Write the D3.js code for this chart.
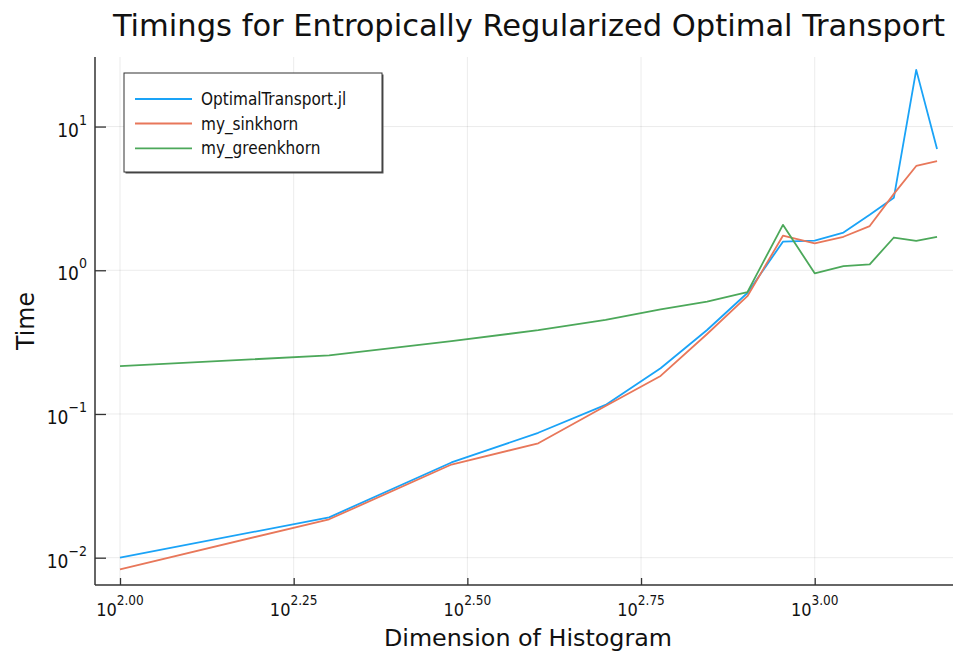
<!DOCTYPE html>
<html>
<head>
<meta charset="utf-8">
<script src="https://cdn.jsdelivr.net/npm/d3@7"></script>
<style>
  html, body { margin: 0; padding: 0; background: #fff; }
  svg { display: block; }
  text { font-family: "DejaVu Sans Condensed", "DejaVu Sans", sans-serif; fill: #111; }
</style>
</head>
<body>
<svg id="chart" width="953" height="654"></svg>
<script>
// ---- data ----
const dims = [100, 200, 300, 400, 500, 600, 700, 800, 900, 1000, 1100, 1200, 1300, 1400, 1500];
const optimalTransport = [0.0100, 0.0191, 0.0460, 0.074, 0.1156, 0.208, 0.384, 0.695, 1.58, 1.61, 1.83, 2.43, 3.2, 24.8, 6.98];
const mySinkhorn      = [0.0083, 0.0185, 0.0445, 0.0625, 0.1137, 0.184, 0.36, 0.66, 1.74, 1.54, 1.71, 2.03, 3.4, 5.32, 5.74];
const myGreenkhorn    = [0.215, 0.256, 0.321, 0.383, 0.451, 0.535, 0.605, 0.705, 2.07, 0.953, 1.07, 1.10, 1.69, 1.60, 1.71];
const seriesNames = ["OptimalTransport.jl", "my_sinkhorn", "my_greenkhorn"];
const seriesColors = ["#1AA3F7", "#E8775A", "#4CA85A"];
const xTickExps = ["2.00", "2.25", "2.50", "2.75", "3.00"];
const yTickExps = [-2, -1, 0, 1];
const titleText = "Timings for Entropically Regularized Optimal Transport";
const xLabel = "Dimension of Histogram";
const yLabel = "Time";

// ---- layout ----
const svg = d3.select("#chart");
const pLeft = 95, pBottom = 585, pTop = 57, pRight = 961.5;

const x = d3.scaleLog().domain([Math.pow(10, 1.964), Math.pow(10, 3.2113)]).range([pLeft, pRight]);
const y = d3.scaleLog().domain([Math.pow(10, -2.19), Math.pow(10, 1.484)]).range([pBottom, pTop]);

const xTicks = xTickExps.map(e => Math.pow(10, +e));
const yTicks = yTickExps.map(e => Math.pow(10, e));

// grid
const grid = svg.append("g");
grid.selectAll("line.gx").data(xTicks).join("line")
  .attr("x1", d => x(d)).attr("x2", d => x(d)).attr("y1", pTop).attr("y2", pBottom)
  .attr("stroke", "#000").attr("stroke-opacity", 0.08).attr("stroke-width", 1);
grid.selectAll("line.gy").data(yTicks).join("line")
  .attr("y1", d => y(d)).attr("y2", d => y(d)).attr("x1", pLeft).attr("x2", 953)
  .attr("stroke", "#000").attr("stroke-opacity", 0.08).attr("stroke-width", 1);

// lines
const series = [optimalTransport, mySinkhorn, myGreenkhorn];
const line = d3.line().x(d => x(d[0])).y(d => y(d[1]));
series.forEach((vals, i) => {
  svg.append("path")
    .datum(dims.map((d, j) => [d, vals[j]]))
    .attr("fill", "none")
    .attr("stroke", seriesColors[i])
    .attr("stroke-width", 1.8)
    .attr("stroke-linejoin", "round")
    .attr("d", line);
});

// axes
const xAxis = d3.axisBottom(x).tickValues(xTicks).tickSizeInner(-7).tickSizeOuter(0).tickFormat("");
const gx = svg.append("g").attr("transform", `translate(0,${pBottom})`).call(xAxis);
gx.select(".domain").attr("stroke", "#333").attr("stroke-width", 1.5).attr("d", `M${pLeft},0H953`);
gx.selectAll(".tick line").attr("stroke", "#333").attr("stroke-width", 1.3);

const yAxis = d3.axisLeft(y).tickValues(yTicks).tickSizeInner(-11).tickSizeOuter(0).tickFormat("");
const gy = svg.append("g").attr("transform", `translate(${pLeft},0)`).call(yAxis);
gy.select(".domain").attr("stroke", "#333").attr("stroke-width", 1.5).attr("d", `M0,${pBottom}V${pTop}`);
gy.selectAll(".tick line").attr("stroke", "#333").attr("stroke-width", 1.3);

// x tick labels
xTickExps.forEach((e, i) => {
  const t = svg.append("text")
    .attr("x", x(xTicks[i]))
    .attr("y", 616)
    .attr("text-anchor", "middle")
    .attr("font-size", 18);
  t.append("tspan").text("10");
  t.append("tspan").attr("dy", -11).attr("font-size", 13.5).text(e);
});

// y tick labels
yTickExps.forEach((e, i) => {
  const t = svg.append("text")
    .attr("x", 87)
    .attr("y", y(yTicks[i]) + 10)
    .attr("text-anchor", "end")
    .attr("font-size", 19);
  t.append("tspan").text("10");
  t.append("tspan").attr("dy", -12).attr("font-size", 14)
    .text(e < 0 ? "\u2212" + Math.abs(e) : String(e));
});

// title
svg.append("text")
  .attr("x", 529).attr("y", 36)
  .attr("text-anchor", "middle")
  .attr("font-size", 31)
  .attr("textLength", 832).attr("lengthAdjust", "spacingAndGlyphs")
  .text(titleText);

// axis labels
svg.append("text")
  .attr("x", 528).attr("y", 646)
  .attr("text-anchor", "middle")
  .attr("font-size", 23)
  .attr("textLength", 288).attr("lengthAdjust", "spacingAndGlyphs")
  .text(xLabel);

svg.append("text")
  .attr("transform", "translate(34,321) rotate(-90)")
  .attr("text-anchor", "middle")
  .attr("font-size", 25)
  .attr("textLength", 58).attr("lengthAdjust", "spacingAndGlyphs")
  .text(yLabel);

// legend
const lg = svg.append("g");
lg.append("rect").attr("x", 125.5).attr("y", 74.5).attr("width", 258).attr("height", 99)
  .attr("fill", "#555");
lg.append("rect").attr("x", 124).attr("y", 73).attr("width", 258).attr("height", 99)
  .attr("fill", "#fff").attr("stroke", "#333").attr("stroke-width", 1);
const rowsY = [99, 123.5, 148.3];
seriesNames.forEach((n, i) => {
  lg.append("line").attr("x1", 135).attr("x2", 192)
    .attr("y1", rowsY[i]).attr("y2", rowsY[i])
    .attr("stroke", seriesColors[i]).attr("stroke-width", 1.8);
  lg.append("text").attr("x", 201).attr("y", rowsY[i] + 6)
    .attr("font-size", 17)
    .text(n);
});
</script>
</body>
</html>
